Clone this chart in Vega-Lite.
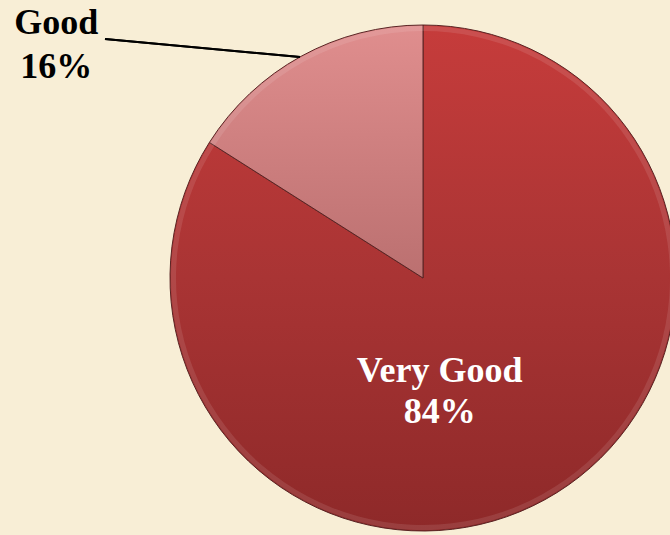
{
  "$schema": "https://vega.github.io/schema/vega-lite/v6.json",
  "width": 494,
  "height": 514,
  "autosize": {"type": "none"},
  "padding": {"left": 176, "top": 21, "right": 0, "bottom": 0},
  "background": "#f8eed6",
  "config": {"view": {"stroke": null}},
  "data": {
    "values": [
      {"category": "Very Good", "value": 84, "label": "Very Good\n84%"},
      {"category": "Good", "value": 16, "label": "Good\n16%"}
    ]
  },
  "layer": [
    {
      "mark": {"type": "arc", "outerRadius": 253, "stroke": "#5a2424", "strokeWidth": 1},
      "encoding": {
        "theta": {"field": "value", "type": "quantitative", "stack": true},
        "order": {"field": "value", "type": "quantitative", "sort": "descending"},
        "fill": {
          "condition": {
            "test": "datum.category === 'Good'",
            "value": {"gradient": "linear", "x1": 0, "y1": 0, "x2": 0, "y2": 1,
              "stops": [{"offset": 0, "color": "#e08e8e"}, {"offset": 1, "color": "#bb7070"}]}
          },
          "value": {"gradient": "linear", "x1": 0, "y1": 0, "x2": 0, "y2": 1,
            "stops": [{"offset": 0, "color": "#c63c3b"}, {"offset": 0.5, "color": "#a93434"}, {"offset": 1, "color": "#8e2929"}]}
        }
      }
    },
    {
      "mark": {"type": "arc", "innerRadius": 247, "outerRadius": 252, "opacity": 0.1, "fill": "#ffffff"},
      "encoding": {
        "theta": {"field": "value", "type": "quantitative", "stack": true},
        "order": {"field": "value", "type": "quantitative", "sort": "descending"}
      }
    },
    {
      "mark": {"type": "rule", "color": "#000000", "strokeWidth": 2},
      "encoding": {
        "x": {"value": -71},
        "y": {"value": 18},
        "x2": {"value": 124},
        "y2": {"value": 36}
      }
    },
    {
      "mark": {"type": "text", "radius": 130, "dx": -46, "dy": -21, "baseline": "middle", "align": "center",
        "font": "Liberation Serif", "fontWeight": "bold", "fontSize": 36, "lineHeight": 41,
        "lineBreak": "\n", "color": "#ffffff"},
      "encoding": {
        "theta": {"field": "value", "type": "quantitative", "stack": true},
        "order": {"field": "value", "type": "quantitative", "sort": "descending"},
        "text": {"condition": {"test": "datum.category === 'Very Good'", "field": "label"}, "value": ""}
      }
    },
    {
      "mark": {"type": "text", "radius": 267, "dx": -238, "dy": -21, "baseline": "middle", "align": "center",
        "font": "Liberation Serif", "fontWeight": "bold", "fontSize": 36, "lineHeight": 44,
        "lineBreak": "\n", "color": "#000000"},
      "encoding": {
        "theta": {"field": "value", "type": "quantitative", "stack": true},
        "order": {"field": "value", "type": "quantitative", "sort": "descending"},
        "text": {"condition": {"test": "datum.category === 'Good'", "field": "label"}, "value": ""}
      }
    }
  ]
}
